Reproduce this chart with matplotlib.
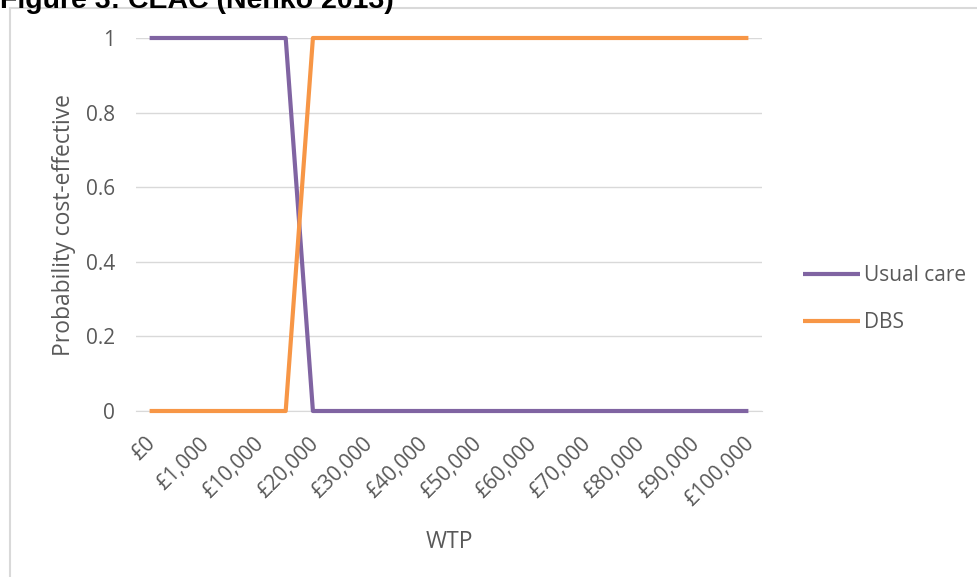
import matplotlib.pyplot as plt
import matplotlib.transforms as mtransforms
from matplotlib.patches import Rectangle

plt.rcParams['font.family'] = ['Open Sans', 'DejaVu Sans']

# WTP thresholds (categories), only every other one gets a label on the axis
wtp = ['£0', '£500', '£1,000', '£5,000', '£10,000', '£15,000', '£20,000',
       '£25,000', '£30,000', '£35,000', '£40,000', '£45,000', '£50,000',
       '£55,000', '£60,000', '£65,000', '£70,000', '£75,000', '£80,000',
       '£85,000', '£90,000', '£95,000', '£100,000']
usual_care = [1, 1, 1, 1, 1, 1, 0, 0, 0, 0, 0, 0, 0, 0, 0, 0, 0, 0, 0, 0, 0, 0, 0]
dbs = [0, 0, 0, 0, 0, 0, 1, 1, 1, 1, 1, 1, 1, 1, 1, 1, 1, 1, 1, 1, 1, 1, 1]
yticks = [0, 0.2, 0.4, 0.6, 0.8, 1]

purple = '#8064A2'
orange = '#F79646'
txt = '#595959'

fig = plt.figure(figsize=(9.78, 5.77), dpi=100)

# chart frame and the caption above it (runs off the top edge)
fig.patches.append(Rectangle((10 / 978, -0.1), 1.1, (577 - 8) / 577 + 0.1,
                             transform=fig.transFigure, fill=False,
                             edgecolor='#d9d9d9', linewidth=1.5))
fig.text(0, 1 - 8 / 577, 'Figure 3: CEAC (Nenko 2013)', fontsize=20.5,
         fontweight='bold', family='Liberation Sans', va='baseline', ha='left')

ax = fig.add_axes([136 / 978, 1 - 411 / 577, (762 - 136) / 978, (411 - 38) / 577])
x = list(range(len(wtp)))
ax.plot(x, usual_care, color=purple, lw=3, label='Usual care', clip_on=False,
        solid_capstyle='butt', zorder=3)
ax.plot(x, dbs, color=orange, lw=3, label='DBS', clip_on=False,
        solid_capstyle='butt', zorder=3)

ax.set_xlim(-0.5, len(wtp) - 0.5)
ax.set_ylim(0, 1)
ax.set_yticks(yticks)
ax.set_yticklabels(['0', '0.2', '0.4', '0.6', '0.8', '1'])
ax.yaxis.grid(True, color='#d9d9d9', lw=1)
ax.set_axisbelow(True)
for s in ['top', 'right', 'left']:
    ax.spines[s].set_visible(False)
ax.spines['bottom'].set_color('#d9d9d9')
ax.tick_params(length=0, labelsize=15, labelcolor=txt)
ax.tick_params(axis='y', pad=15)

ax.set_xticks(x[::2])
ax.set_xticklabels(wtp[::2], rotation=45, ha='right', rotation_mode='anchor')
ax.tick_params(axis='x', pad=16)
# nudge the slanted labels a little to the left
shift = mtransforms.ScaledTranslation(-5 / 100, 0, fig.dpi_scale_trans)
for lab in ax.get_xticklabels():
    lab.set_transform(lab.get_transform() + shift)

ax.set_xlabel('WTP', fontsize=16.5, color=txt, labelpad=14)
ax.set_ylabel('Probability cost-effective', fontsize=16.5, color=txt, labelpad=7)

ax.legend(loc='center left', bbox_to_anchor=(1.036, 0.30), frameon=False,
          fontsize=15, labelcolor=txt, handlelength=2.7, handletextpad=0.2,
          labelspacing=1.25)

fig.savefig('out.png', dpi=100)
